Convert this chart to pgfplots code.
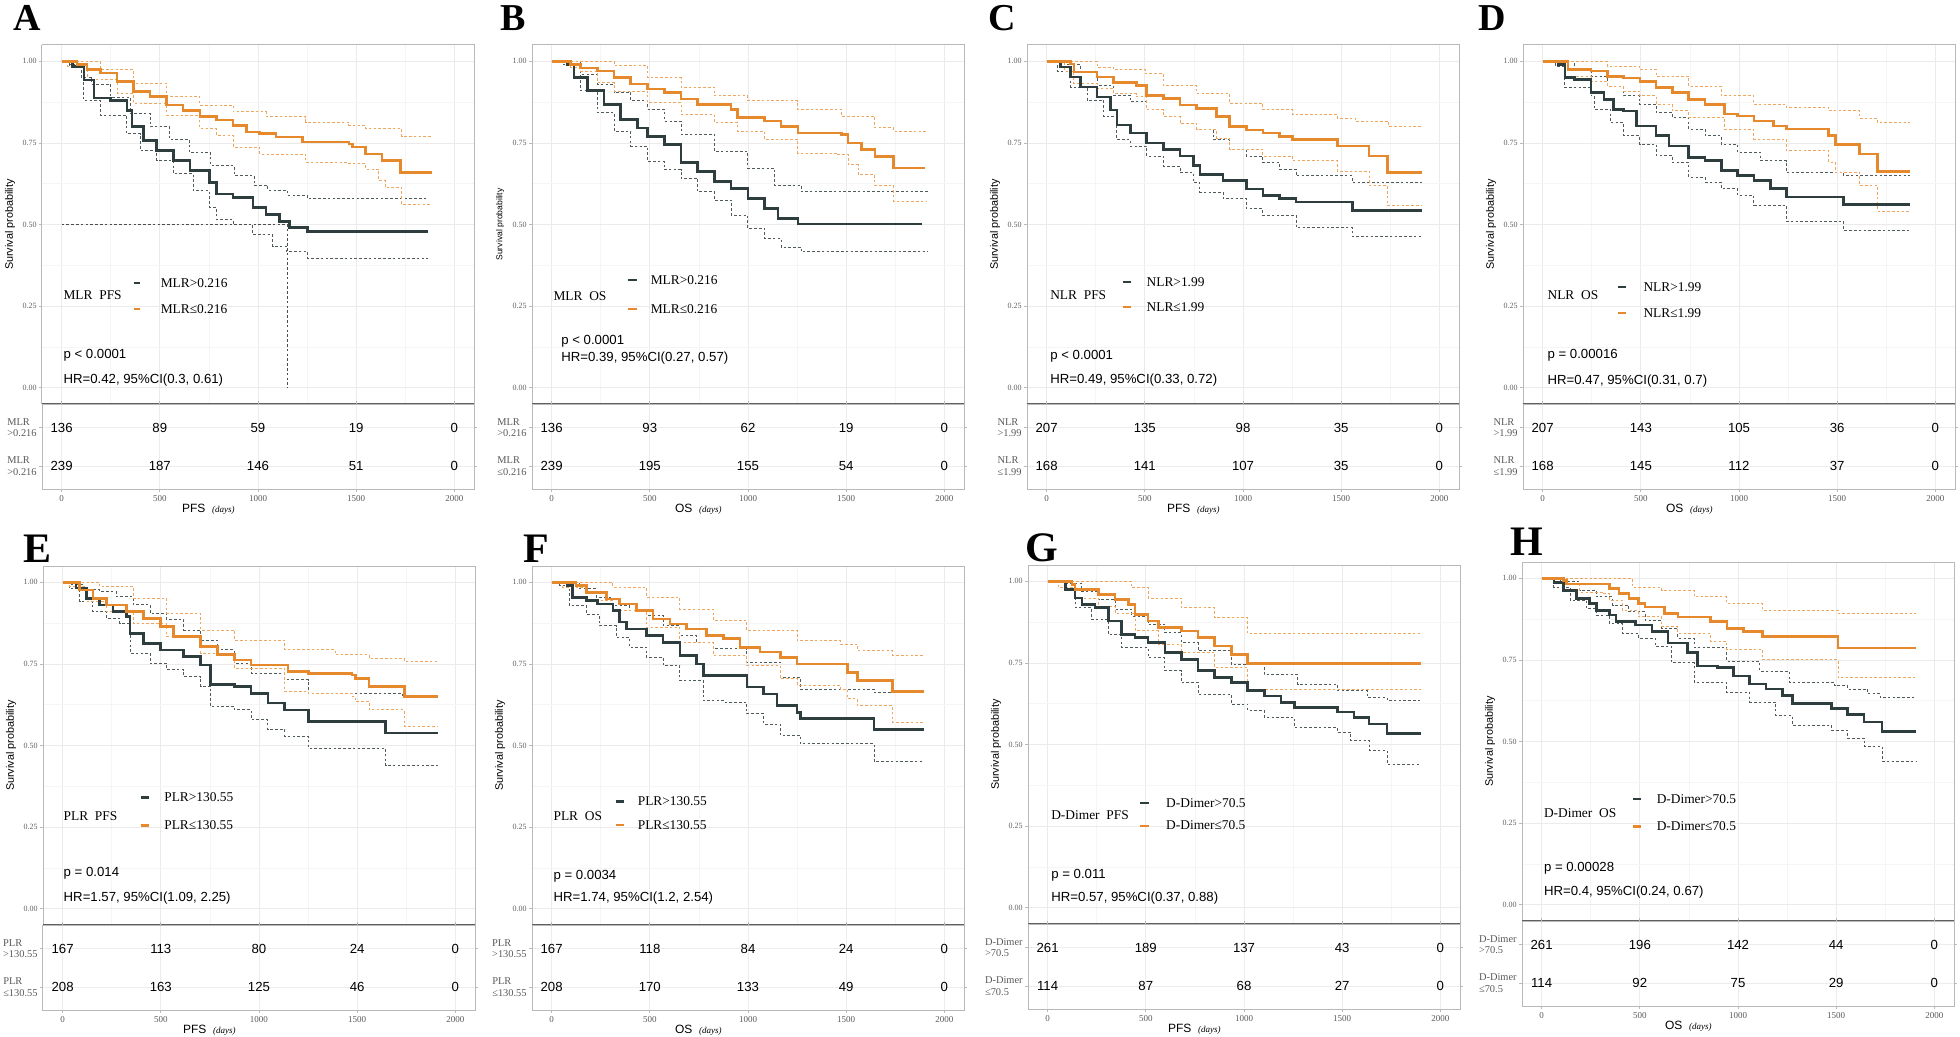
\documentclass[border=0pt]{standalone}
\usepackage{pgfplots}
\pgfplotsset{compat=1.18}
\usepackage{fontspec}
\setmainfont{Liberation Serif}
\setsansfont{Liberation Sans}
\definecolor{dk}{HTML}{2E3D3D}
\definecolor{dkci}{HTML}{4F5A5A}
\definecolor{org}{HTML}{E5892C}
\definecolor{orgci}{HTML}{F0A45C}
\tikzset{
 leg/.style={font=\fontsize{6.7}{7}\selectfont, anchor=west, inner sep=0pt},
 ptx/.style={font=\sffamily\fontsize{6.6}{7}\selectfont, anchor=west, inner sep=0pt},
 letter/.style={font=\bfseries\fontsize{19}{19}\selectfont, anchor=base west, inner sep=0pt},
 letterb/.style={font=\bfseries\fontsize{21}{21}\selectfont, anchor=base west, inner sep=0pt},
 keyd/.style={dk, line width=1.1pt},
 keyo/.style={org, line width=1.1pt},
}
\pgfplotsset{
 kmbase/.style={scale only axis, width=216pt, xmin=-100, xmax=2100,
   xtick={0,500,1000,1500,2000},
   axis line style={gray!55, line width=0.5pt},
   tick style={gray!55, line width=0.4pt}, major tick length=1.5pt, minor tick length=0pt,
   tick align=outside},
 kmmain/.style={kmbase, height=179.5pt, ymin=-0.05, ymax=1.05,
   ytick={0,0.25,0.5,0.75,1}, yticklabels={0.00,0.25,0.50,0.75,1.00},
   minor xtick={250,750,1250,1750}, minor ytick={0.125,0.375,0.625,0.875},
   grid=both, major grid style={gray!16, line width=0.35pt}, minor grid style={gray!8, line width=0.3pt},
   xticklabels={},
   yticklabel style={font=\fontsize{4}{4.5}\selectfont, text=gray!75!black, inner sep=1pt},
   ylabel={Survival probability},
   ylabel style={font=\sffamily\fontsize{5.4}{6}\selectfont, at={(axis description cs:-0.074,0.5)}, anchor=center},
   axis x line*=bottom, axis y line*=left,
   after end axis/.code={\draw[gray!55, line width=0.5pt] (rel axis cs:0,1) -- (rel axis cs:1,1) -- (rel axis cs:1,0);
     \draw[gray!75!black, line width=0.7pt] (rel axis cs:0,0) -- (rel axis cs:1,0);}},
 kmtab/.style={kmbase, height=42.5pt, ymin=0, ymax=1, ytick={0.27,0.72},
   xticklabels={0,500,1000,1500,2000},
   xticklabel style={font=\fontsize{4.5}{5}\selectfont, text=gray!70!black, inner sep=1.5pt},
   yticklabel style={font=\fontsize{5.2}{5.8}\selectfont, text=gray!70!black, align=left, inner sep=1pt},
   grid=major, major grid style={gray!14, line width=0.35pt},
   xlabel style={at={(axis description cs:0.385,-0.235)}, anchor=center}},
 nums/.style={only marks, mark=none, nodes near coords, point meta=explicit symbolic,
   every node near coord/.append style={anchor=center, inner sep=0pt, font=\sffamily\fontsize{6.6}{7}\selectfont}},
 dkm/.style={dk, const plot, line width=1.3pt},
 dkc/.style={dkci, const plot, line width=0.45pt, dash pattern=on 1.3pt off 1.1pt},
 orm/.style={org, const plot, line width=1.3pt},
 orc/.style={orgci, const plot, line width=0.45pt, dash pattern=on 1.3pt off 1.1pt},
}
\newcommand{\pfs}{\sffamily\fontsize{6}{7}\selectfont PFS\ \ {\rmfamily\itshape\fontsize{4.5}{5}\selectfont (days)}}
\newcommand{\os}{\sffamily\fontsize{6}{7}\selectfont OS\ \ {\rmfamily\itshape\fontsize{4.5}{5}\selectfont (days)}}
\begin{document}
\begin{tikzpicture}
\path (0,0) rectangle (980pt,-518.5pt);
% ---------------- A ----------------
\node[letter] at (6.5pt,-15.5pt) {A};
\begin{axis}[kmmain, at={(21pt,-22.5pt)}, anchor=north west]
\addplot[dkc] coordinates {(0,1)(40,0.99)(100,0.95)(150,0.93)(250,0.89)(350,0.84)(450,0.80)(550,0.76)(650,0.72)(760,0.68)(880,0.65)(980,0.62)(1050,0.605)(1150,0.59)(1250,0.58)(1868,0.58)};
\addplot[dkc] coordinates {(0,1)(40,0.985)(113,0.88)(197,0.835)(332,0.778)(400,0.727)(484,0.696)(569,0.655)(670,0.603)(754,0.552)(788,0.515)(873,0.5)(974,0.469)(1075,0.433)(1143,0.418)(1252,0.397)(1868,0.397)};
\addplot[orc] coordinates {(0,1)(100,1)(197,0.974)(366,0.933)(535,0.892)(704,0.866)(873,0.845)(1041,0.83)(1244,0.814)(1463,0.804)(1548,0.794)(1733,0.77)(1885,0.77)};
\addplot[orc] coordinates {(0,1)(30,0.985)(130,0.943)(282,0.902)(366,0.871)(535,0.835)(704,0.794)(788,0.773)(873,0.737)(1008,0.716)(1244,0.69)(1463,0.686)(1548,0.67)(1615,0.634)(1649,0.613)(1733,0.562)(1885,0.562)};
\addplot[gray!60!black, line width=0.45pt, dash pattern=on 1.3pt off 1.1pt] coordinates {(0,0.5)(1151,0.5)(1151,0)};
\addplot[dkm] coordinates {(0,1)(54,0.985)(113,0.943)(164,0.887)(248,0.88)(332,0.85)(358,0.80)(417,0.758)(484,0.727)(569,0.696)(653,0.665)(754,0.629)(788,0.593)(873,0.582)(974,0.552)(1041,0.531)(1109,0.51)(1160,0.49)(1252,0.479)(1868,0.479)};
\addplot[orm] coordinates {(0,1)(79,0.99)(130,0.974)(197,0.964)(282,0.938)(366,0.907)(451,0.892)(535,0.866)(619,0.85)(704,0.83)(788,0.82)(873,0.804)(940,0.784)(1008,0.778)(1092,0.768)(1227,0.753)(1463,0.747)(1480,0.737)(1548,0.716)(1632,0.696)(1725,0.66)(1885,0.66)};
\node[leg] at (rel axis cs:0.049,0.304) {MLR\ \ PFS};
\draw[keyd] (rel axis cs:0.212,0.337) -- (rel axis cs:0.228,0.337);
\node[leg] at (rel axis cs:0.274,0.337) {MLR>0.216};
\draw[keyo] (rel axis cs:0.212,0.265) -- (rel axis cs:0.228,0.265);
\node[leg] at (rel axis cs:0.274,0.265) {MLR≤0.216};
\node[ptx] at (rel axis cs:0.049,0.136) {p < 0.0001};
\node[ptx] at (rel axis cs:0.049,0.067) {HR=0.42, 95\%CI(0.3, 0.61)};
\end{axis}
\begin{axis}[kmtab, at={(21pt,-202pt)}, anchor=north west, yticklabels={{MLR\\>0.216},{MLR\\>0.216}}, xlabel={\pfs}]
\addplot[nums] table[meta=n] {
x y n
0 0.72 136
500 0.72 89
1000 0.72 59
1500 0.72 19
2000 0.72 0
0 0.27 239
500 0.27 187
1000 0.27 146
1500 0.27 51
2000 0.27 0
};
\end{axis}
% ---------------- B ----------------
\node[letter] at (250pt,-15.5pt) {B};
\begin{axis}[kmmain, at={(266pt,-22.5pt)}, anchor=north west, ylabel style={font=\sffamily\fontsize{4.3}{5}\selectfont}]
\addplot[dkc] coordinates {(0,1)(80,1)(148,0.96)(233,0.93)(318,0.904)(403,0.879)(489,0.853)(574,0.817)(659,0.776)(829,0.724)(999,0.673)(1135,0.621)(1271,0.60)(1918,0.60)};
\addplot[dkc] coordinates {(0,1)(60,0.99)(148,0.91)(233,0.843)(318,0.786)(403,0.74)(489,0.693)(574,0.668)(659,0.642)(744,0.60)(829,0.575)(914,0.529)(999,0.488)(1084,0.457)(1169,0.431)(1271,0.416)(1918,0.416)};
\addplot[orc] coordinates {(0,1)(233,1)(318,0.987)(489,0.95)(659,0.92)(829,0.894)(999,0.879)(1254,0.853)(1476,0.832)(1646,0.796)(1740,0.786)(1910,0.786)};
\addplot[orc] coordinates {(0,1)(97,0.98)(148,0.97)(233,0.935)(318,0.909)(489,0.873)(659,0.837)(829,0.812)(948,0.786)(1084,0.76)(1254,0.719)(1458,0.714)(1510,0.683)(1561,0.652)(1646,0.621)(1740,0.572)(1910,0.572)};
\addplot[dkm] coordinates {(0,1)(80,0.99)(114,0.95)(182,0.91)(267,0.868)(352,0.822)(437,0.796)(489,0.77)(574,0.745)(659,0.69)(744,0.663)(829,0.632)(914,0.611)(999,0.58)(1084,0.549)(1152,0.519)(1254,0.501)(1884,0.501)};
\addplot[orm] coordinates {(0,1)(97,0.99)(148,0.98)(233,0.97)(318,0.95)(403,0.93)(489,0.915)(574,0.904)(659,0.884)(744,0.868)(914,0.853)(948,0.827)(1084,0.817)(1169,0.80)(1254,0.78)(1476,0.776)(1510,0.75)(1578,0.729)(1646,0.709)(1740,0.673)(1901,0.673)};
\node[leg] at (rel axis cs:0.049,0.30) {MLR\ \ OS};
\draw[keyd] (rel axis cs:0.223,0.346) -- (rel axis cs:0.242,0.346);
\node[leg] at (rel axis cs:0.274,0.346) {MLR>0.216};
\draw[keyo] (rel axis cs:0.223,0.265) -- (rel axis cs:0.242,0.265);
\node[leg] at (rel axis cs:0.274,0.265) {MLR≤0.216};
\node[ptx] at (rel axis cs:0.067,0.176) {p < 0.0001};
\node[ptx] at (rel axis cs:0.067,0.128) {HR=0.39, 95\%CI(0.27, 0.57)};
\end{axis}
\begin{axis}[kmtab, at={(266pt,-202pt)}, anchor=north west, yticklabels={{MLR\\≤0.216},{MLR\\>0.216}}, xlabel={\os}]
\addplot[nums] table[meta=n] {
x y n
0 0.72 136
500 0.72 93
1000 0.72 62
1500 0.72 19
2000 0.72 0
0 0.27 239
500 0.27 195
1000 0.27 155
1500 0.27 54
2000 0.27 0
};
\end{axis}
% ---------------- C ----------------
\node[letter] at (494pt,-15.5pt) {C};
\begin{axis}[kmmain, at={(513.5pt,-22.5pt)}, anchor=north west]
\addplot[dkc] coordinates {(0,1)(90,0.99)(172,0.967)(257,0.926)(341,0.896)(426,0.876)(510,0.851)(595,0.831)(679,0.81)(764,0.79)(848,0.76)(932,0.73)(1017,0.71)(1101,0.69)(1186,0.669)(1270,0.649)(1557,0.629)(1912,0.629)};
\addplot[dkc] coordinates {(0,1)(54,0.97)(122,0.921)(206,0.881)(291,0.831)(358,0.76)(426,0.74)(510,0.71)(595,0.679)(679,0.659)(747,0.629)(780,0.599)(899,0.579)(1017,0.548)(1101,0.528)(1270,0.49)(1557,0.463)(1912,0.463)};
\addplot[orc] coordinates {(0,1)(139,1)(257,0.982)(341,0.974)(502,0.962)(595,0.926)(764,0.901)(932,0.871)(1101,0.851)(1253,0.836)(1481,0.826)(1574,0.816)(1743,0.80)(1912,0.80)};
\addplot[orc] coordinates {(0,1)(90,0.97)(139,0.931)(257,0.916)(341,0.901)(459,0.891)(510,0.851)(595,0.831)(679,0.81)(764,0.79)(865,0.765)(932,0.73)(1101,0.71)(1253,0.695)(1481,0.664)(1642,0.619)(1735,0.558)(1912,0.558)};
\addplot[dkm] coordinates {(0,1)(71,0.982)(122,0.952)(172,0.921)(257,0.891)(324,0.851)(358,0.805)(426,0.78)(510,0.75)(595,0.73)(679,0.71)(747,0.68)(780,0.654)(899,0.634)(1017,0.609)(1101,0.589)(1186,0.579)(1270,0.569)(1557,0.543)(1912,0.543)};
\addplot[orm] coordinates {(0,1)(122,0.992)(139,0.967)(257,0.952)(341,0.936)(459,0.926)(510,0.896)(595,0.886)(679,0.866)(764,0.856)(865,0.831)(932,0.80)(1017,0.79)(1101,0.78)(1186,0.77)(1253,0.76)(1481,0.74)(1642,0.71)(1735,0.659)(1912,0.659)};
\node[leg] at (rel axis cs:0.053,0.304) {NLR\ \ PFS};
\draw[keyd] (rel axis cs:0.222,0.34) -- (rel axis cs:0.24,0.34);
\node[leg] at (rel axis cs:0.276,0.34) {NLR>1.99};
\draw[keyo] (rel axis cs:0.222,0.271) -- (rel axis cs:0.24,0.271);
\node[leg] at (rel axis cs:0.276,0.271) {NLR≤1.99};
\node[ptx] at (rel axis cs:0.053,0.133) {p < 0.0001};
\node[ptx] at (rel axis cs:0.053,0.066) {HR=0.49, 95\%CI(0.33, 0.72)};
\end{axis}
\begin{axis}[kmtab, at={(513.5pt,-202pt)}, anchor=north west, yticklabels={{NLR\\≤1.99},{NLR\\>1.99}}, xlabel={\pfs}]
\addplot[nums] table[meta=n] {
x y n
0 0.72 207
500 0.72 135
1000 0.72 98
1500 0.72 35
2000 0.72 0
0 0.27 168
500 0.27 141
1000 0.27 107
1500 0.27 35
2000 0.27 0
};
\end{axis}
% ---------------- D ----------------
\node[letter] at (739pt,-15.5pt) {D};
\begin{axis}[kmmain, at={(761.5pt,-22.5pt)}, anchor=north west]
\addplot[dkc] coordinates {(0,1)(80,1)(163,0.975)(246,0.954)(329,0.924)(412,0.894)(495,0.868)(578,0.843)(661,0.828)(744,0.792)(827,0.772)(910,0.746)(993,0.721)(1109,0.696)(1241,0.66)(1532,0.65)(1872,0.65)};
\addplot[dkc] coordinates {(0,1)(63,0.985)(113,0.919)(246,0.894)(262,0.853)(345,0.812)(412,0.772)(495,0.746)(578,0.711)(661,0.69)(744,0.645)(827,0.63)(910,0.61)(993,0.589)(1076,0.559)(1241,0.51)(1532,0.483)(1872,0.483)};
\addplot[orc] coordinates {(0,1)(129,1)(329,0.985)(495,0.975)(578,0.954)(744,0.924)(910,0.894)(1076,0.868)(1241,0.858)(1457,0.848)(1615,0.825)(1706,0.812)(1872,0.812)};
\addplot[orc] coordinates {(0,1)(113,0.955)(246,0.939)(329,0.924)(412,0.909)(495,0.894)(578,0.868)(661,0.848)(744,0.828)(926,0.792)(1076,0.762)(1241,0.726)(1457,0.691)(1490,0.66)(1615,0.62)(1706,0.541)(1872,0.541)};
\addplot[dkm] coordinates {(0,1)(80,0.99)(113,0.95)(163,0.944)(246,0.904)(312,0.883)(362,0.853)(412,0.848)(478,0.802)(578,0.772)(644,0.741)(744,0.706)(827,0.696)(910,0.665)(993,0.65)(1076,0.635)(1159,0.61)(1241,0.584)(1532,0.561)(1872,0.561)};
\addplot[orm] coordinates {(0,1)(129,0.975)(246,0.97)(329,0.954)(412,0.949)(495,0.939)(578,0.919)(661,0.904)(744,0.883)(827,0.868)(926,0.838)(993,0.833)(1076,0.817)(1175,0.802)(1241,0.792)(1457,0.772)(1490,0.746)(1615,0.716)(1706,0.662)(1872,0.662)};
\node[leg] at (rel axis cs:0.056,0.303) {NLR\ \ OS};
\draw[keyd] (rel axis cs:0.22,0.325) -- (rel axis cs:0.238,0.325);
\node[leg] at (rel axis cs:0.278,0.325) {NLR>1.99};
\draw[keyo] (rel axis cs:0.22,0.253) -- (rel axis cs:0.238,0.253);
\node[leg] at (rel axis cs:0.278,0.253) {NLR≤1.99};
\node[ptx] at (rel axis cs:0.056,0.137) {p = 0.00016};
\node[ptx] at (rel axis cs:0.056,0.063) {HR=0.47, 95\%CI(0.31, 0.7)};
\end{axis}
\begin{axis}[kmtab, at={(761.5pt,-202pt)}, anchor=north west, yticklabels={{NLR\\≤1.99},{NLR\\>1.99}}, xlabel={\os}]
\addplot[nums] table[meta=n] {
x y n
0 0.72 207
500 0.72 143
1000 0.72 105
1500 0.72 36
2000 0.72 0
0 0.27 168
500 0.27 145
1000 0.27 112
1500 0.27 37
2000 0.27 0
};
\end{axis}
% ---------------- E ----------------
\node[letterb] at (11.5pt,-281pt) {E};
\begin{axis}[kmmain, at={(21.5pt,-283pt)}, anchor=north west]
\addplot[dkc] coordinates {(0,1)(34,0.995)(103,0.977)(189,0.971)(274,0.956)(360,0.931)(446,0.905)(531,0.885)(617,0.854)(703,0.823)(788,0.793)(874,0.752)(960,0.721)(1131,0.701)(1251,0.66)(1731,0.65)(1911,0.65)};
\addplot[dkc] coordinates {(0,1)(34,0.98)(86,0.941)(154,0.91)(223,0.89)(291,0.874)(343,0.783)(446,0.752)(531,0.732)(617,0.711)(703,0.681)(754,0.619)(874,0.609)(960,0.579)(1045,0.548)(1131,0.528)(1251,0.492)(1645,0.438)(1911,0.438)};
\addplot[orc] coordinates {(0,1)(120,1)(189,0.987)(360,0.951)(531,0.905)(703,0.854)(874,0.823)(1131,0.793)(1388,0.778)(1560,0.767)(1740,0.757)(1911,0.757)};
\addplot[orc] coordinates {(0,1)(34,0.987)(120,0.941)(223,0.91)(360,0.874)(531,0.834)(703,0.783)(874,0.737)(1131,0.665)(1251,0.66)(1474,0.65)(1491,0.635)(1560,0.609)(1740,0.558)(1911,0.558)};
\addplot[dkm] coordinates {(0,1)(69,0.982)(120,0.951)(189,0.931)(257,0.91)(326,0.895)(343,0.844)(411,0.813)(497,0.793)(617,0.772)(703,0.747)(754,0.686)(874,0.681)(960,0.66)(1045,0.63)(1131,0.609)(1251,0.573)(1645,0.538)(1911,0.538)};
\addplot[orm] coordinates {(0,1)(86,0.977)(154,0.951)(223,0.931)(326,0.91)(411,0.89)(497,0.864)(566,0.834)(703,0.803)(788,0.778)(874,0.762)(960,0.747)(1148,0.727)(1251,0.721)(1474,0.716)(1491,0.706)(1560,0.681)(1740,0.65)(1911,0.65)};
\node[leg] at (rel axis cs:0.047,0.304) {PLR\ \ PFS};
\draw[keyd] (rel axis cs:0.226,0.355) -- (rel axis cs:0.245,0.355);
\node[leg] at (rel axis cs:0.28,0.355) {PLR>130.55};
\draw[keyo] (rel axis cs:0.226,0.277) -- (rel axis cs:0.245,0.277);
\node[leg] at (rel axis cs:0.28,0.277) {PLR≤130.55};
\node[ptx] at (rel axis cs:0.047,0.145) {p = 0.014};
\node[ptx] at (rel axis cs:0.047,0.075) {HR=1.57, 95\%CI(1.09, 2.25)};
\end{axis}
\begin{axis}[kmtab, at={(21.5pt,-462.5pt)}, anchor=north west, yticklabels={{PLR\\≤130.55},{PLR\\>130.55}}, xlabel={\pfs}]
\addplot[nums] table[meta=n] {
x y n
0 0.72 167
500 0.72 113
1000 0.72 80
1500 0.72 24
2000 0.72 0
0 0.27 208
500 0.27 163
1000 0.27 125
1500 0.27 46
2000 0.27 0
};
\end{axis}
% ---------------- F ----------------
\node[letterb] at (261.5pt,-281pt) {F};
\begin{axis}[kmmain, at={(266pt,-283pt)}, anchor=north west]
\addplot[dkc] coordinates {(0,1)(90,1)(142,0.98)(227,0.954)(312,0.929)(397,0.913)(483,0.898)(568,0.867)(653,0.837)(738,0.816)(824,0.796)(994,0.755)(1165,0.709)(1267,0.673)(1642,0.663)(1898,0.663)};
\addplot[dkc] coordinates {(0,1)(39,0.99)(90,0.929)(176,0.903)(244,0.867)(329,0.832)(397,0.801)(483,0.77)(568,0.745)(653,0.699)(772,0.638)(875,0.633)(994,0.597)(1079,0.566)(1165,0.531)(1267,0.505)(1642,0.451)(1898,0.451)};
\addplot[orc] coordinates {(0,1)(227,1)(312,0.985)(483,0.954)(653,0.918)(824,0.883)(994,0.852)(1250,0.821)(1471,0.811)(1557,0.791)(1736,0.776)(1898,0.776)};
\addplot[orc] coordinates {(0,1)(56,0.985)(176,0.944)(312,0.913)(483,0.862)(653,0.816)(824,0.776)(994,0.745)(1165,0.704)(1250,0.684)(1471,0.673)(1506,0.643)(1557,0.622)(1736,0.571)(1898,0.571)};
\addplot[dkm] coordinates {(0,1)(82,0.99)(107,0.954)(176,0.944)(235,0.934)(312,0.913)(346,0.878)(380,0.857)(483,0.837)(568,0.816)(653,0.776)(738,0.75)(772,0.714)(994,0.679)(1079,0.658)(1148,0.622)(1250,0.602)(1267,0.582)(1642,0.549)(1898,0.549)};
\addplot[orm] coordinates {(0,1)(124,0.99)(176,0.969)(278,0.949)(346,0.934)(431,0.913)(517,0.888)(602,0.872)(687,0.857)(789,0.837)(875,0.827)(960,0.801)(1062,0.786)(1165,0.77)(1250,0.75)(1506,0.724)(1557,0.699)(1736,0.665)(1898,0.665)};
\node[leg] at (rel axis cs:0.049,0.303) {PLR\ \ OS};
\draw[keyd] (rel axis cs:0.195,0.344) -- (rel axis cs:0.214,0.344);
\node[leg] at (rel axis cs:0.244,0.344) {PLR>130.55};
\draw[keyo] (rel axis cs:0.195,0.278) -- (rel axis cs:0.214,0.278);
\node[leg] at (rel axis cs:0.244,0.278) {PLR≤130.55};
\node[ptx] at (rel axis cs:0.049,0.136) {p = 0.0034};
\node[ptx] at (rel axis cs:0.049,0.075) {HR=1.74, 95\%CI(1.2, 2.54)};
\end{axis}
\begin{axis}[kmtab, at={(266pt,-462.5pt)}, anchor=north west, yticklabels={{PLR\\≤130.55},{PLR\\>130.55}}, xlabel={\os}]
\addplot[nums] table[meta=n] {
x y n
0 0.72 167
500 0.72 118
1000 0.72 84
1500 0.72 24
2000 0.72 0
0 0.27 208
500 0.27 170
1000 0.27 133
1500 0.27 49
2000 0.27 0
};
\end{axis}
% ---------------- G ----------------
\node[letterb] at (512.5pt,-280.5pt) {G};
\begin{axis}[kmmain, at={(514pt,-282.5pt)}, anchor=north west]
\addplot[dkc] coordinates {(0,1)(90,0.995)(174,0.97)(259,0.944)(343,0.914)(428,0.893)(512,0.868)(597,0.842)(681,0.812)(766,0.787)(935,0.746)(1104,0.715)(1273,0.685)(1476,0.665)(1628,0.644)(1729,0.634)(1899,0.634)};
\addplot[dkc] coordinates {(0,1)(56,0.98)(140,0.919)(225,0.883)(309,0.837)(377,0.797)(512,0.766)(597,0.726)(681,0.69)(766,0.654)(935,0.624)(1019,0.604)(1104,0.583)(1256,0.551)(1476,0.538)(1543,0.512)(1637,0.482)(1729,0.439)(1899,0.439)};
\addplot[orc] coordinates {(0,1)(309,1)(428,0.98)(512,0.949)(681,0.919)(850,0.888)(1019,0.839)(1899,0.839)};
\addplot[orc] coordinates {(0,1)(56,0.98)(140,0.949)(259,0.924)(343,0.903)(445,0.848)(563,0.807)(681,0.782)(850,0.736)(1019,0.668)(1899,0.668)};
\addplot[dkm] coordinates {(0,1)(90,0.975)(140,0.949)(174,0.929)(242,0.919)(309,0.878)(377,0.837)(445,0.827)(512,0.812)(597,0.781)(681,0.761)(766,0.726)(850,0.705)(935,0.69)(1019,0.665)(1104,0.649)(1188,0.629)(1256,0.614)(1476,0.599)(1560,0.583)(1637,0.563)(1729,0.533)(1899,0.533)};
\addplot[orm] coordinates {(0,1)(123,0.99)(140,0.975)(259,0.959)(343,0.944)(411,0.929)(445,0.898)(512,0.878)(563,0.858)(681,0.848)(766,0.827)(850,0.802)(935,0.776)(1019,0.748)(1899,0.748)};
\node[leg] at (rel axis cs:0.053,0.302) {D-Dimer\ \ PFS};
\draw[keyd] (rel axis cs:0.26,0.338) -- (rel axis cs:0.28,0.338);
\node[leg] at (rel axis cs:0.319,0.338) {D-Dimer>70.5};
\draw[keyo] (rel axis cs:0.26,0.274) -- (rel axis cs:0.28,0.274);
\node[leg] at (rel axis cs:0.319,0.274) {D-Dimer≤70.5};
\node[ptx] at (rel axis cs:0.053,0.137) {p = 0.011};
\node[ptx] at (rel axis cs:0.053,0.073) {HR=0.57, 95\%CI(0.37, 0.88)};
\end{axis}
\begin{axis}[kmtab, at={(514pt,-462pt)}, anchor=north west, yticklabels={{D-Dimer\\≤70.5},{D-Dimer\\>70.5}}, xlabel={\pfs}]
\addplot[nums] table[meta=n] {
x y n
0 0.72 261
500 0.72 189
1000 0.72 137
1500 0.72 43
2000 0.72 0
0 0.27 114
500 0.27 87
1000 0.27 68
1500 0.27 27
2000 0.27 0
};
\end{axis}
% ---------------- H ----------------
\node[letterb] at (755pt,-277.5pt) {H};
\begin{axis}[kmmain, at={(761pt,-281pt)}, anchor=north west]
\addplot[dkc] coordinates {(0,1)(95,0.99)(195,0.963)(278,0.943)(361,0.917)(444,0.897)(527,0.872)(611,0.847)(694,0.817)(777,0.787)(943,0.746)(1110,0.716)(1260,0.681)(1493,0.671)(1559,0.661)(1659,0.646)(1725,0.634)(1908,0.634)};
\addplot[dkc] coordinates {(0,1)(62,0.973)(145,0.933)(228,0.907)(278,0.887)(344,0.862)(411,0.832)(494,0.817)(577,0.792)(661,0.741)(777,0.681)(943,0.651)(1060,0.621)(1193,0.58)(1276,0.55)(1476,0.535)(1559,0.51)(1642,0.485)(1734,0.44)(1908,0.44)};
\addplot[orc] coordinates {(0,1)(444,1)(461,0.973)(611,0.963)(777,0.943)(943,0.923)(1126,0.902)(1509,0.892)(1908,0.892)};
\addplot[orc] coordinates {(0,1)(111,0.983)(195,0.958)(311,0.953)(344,0.933)(411,0.902)(494,0.882)(611,0.852)(694,0.832)(860,0.807)(943,0.782)(1126,0.75)(1509,0.696)(1908,0.696)};
\addplot[dkm] coordinates {(0,1)(62,0.988)(111,0.963)(178,0.938)(245,0.923)(278,0.902)(344,0.887)(378,0.867)(478,0.857)(561,0.837)(644,0.802)(744,0.772)(794,0.731)(894,0.726)(977,0.701)(1060,0.676)(1143,0.661)(1226,0.641)(1276,0.616)(1476,0.601)(1559,0.583)(1642,0.56)(1734,0.53)(1908,0.53)};
\addplot[orm] coordinates {(0,1)(111,0.993)(128,0.983)(344,0.968)(394,0.953)(444,0.938)(494,0.923)(527,0.912)(627,0.892)(694,0.882)(860,0.867)(943,0.847)(1027,0.837)(1126,0.822)(1509,0.787)(1908,0.787)};
\node[leg] at (rel axis cs:0.05,0.30) {D-Dimer\ \ OS};
\draw[keyd] (rel axis cs:0.257,0.34) -- (rel axis cs:0.276,0.34);
\node[leg] at (rel axis cs:0.311,0.34) {D-Dimer>70.5};
\draw[keyo] (rel axis cs:0.257,0.263) -- (rel axis cs:0.276,0.263);
\node[leg] at (rel axis cs:0.311,0.263) {D-Dimer≤70.5};
\node[ptx] at (rel axis cs:0.05,0.148) {p = 0.00028};
\node[ptx] at (rel axis cs:0.05,0.08) {HR=0.4, 95\%CI(0.24, 0.67)};
\end{axis}
\begin{axis}[kmtab, at={(761pt,-460.5pt)}, anchor=north west, yticklabels={{D-Dimer\\≤70.5},{D-Dimer\\>70.5}}, xlabel={\os}]
\addplot[nums] table[meta=n] {
x y n
0 0.72 261
500 0.72 196
1000 0.72 142
1500 0.72 44
2000 0.72 0
0 0.27 114
500 0.27 92
1000 0.27 75
1500 0.27 29
2000 0.27 0
};
\end{axis}
\pgfresetboundingbox
\path[use as bounding box] (0,0) rectangle (980pt,-518.5pt);
\end{tikzpicture}
\end{document}
